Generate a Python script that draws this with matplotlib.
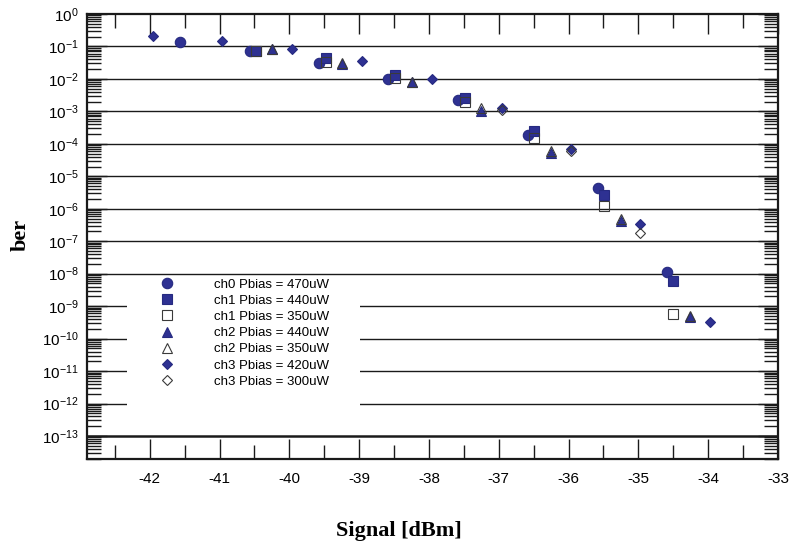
import matplotlib
matplotlib.use("Agg")
import matplotlib.pyplot as plt
from matplotlib.ticker import LogLocator, MultipleLocator, FixedLocator, FuncFormatter, NullFormatter
from matplotlib.patches import Rectangle
import numpy as np

plt.rcParams['font.family'] = ['Liberation Sans', 'DejaVu Sans']
plt.rcParams['mathtext.fontset'] = 'custom'
plt.rcParams['mathtext.rm'] = 'Liberation Sans'
plt.rcParams['mathtext.default'] = 'regular'

# measured bit error rate vs received signal power
ch0_x = [-41.57, -40.57, -39.58, -38.58, -37.58, -36.58, -35.58, -34.59]
ch0_ber = [1.4e-1, 7.4e-2, 3.0e-2, 1.0e-2, 2.2e-3, 1.9e-4, 4.4e-6, 1.1e-8]

ch1_hi_x = [-40.48, -39.48, -38.48, -37.49, -36.49, -35.49, -34.50]
ch1_hi_ber = [7.4e-2, 4.3e-2, 1.3e-2, 2.6e-3, 2.4e-4, 2.7e-6, 5.9e-9]
ch1_lo_x = [-40.48, -39.48, -38.48, -37.49, -36.49, -35.49, -34.50]
ch1_lo_ber = [7.2e-2, 3.4e-2, 1.04e-2, 1.9e-3, 1.5e-4, 1.25e-6, 5.6e-10]

ch2_hi_x = [-40.25, -39.25, -38.25, -37.25, -36.25, -35.25, -34.26]
ch2_hi_ber = [8.2e-2, 2.9e-2, 7.8e-3, 1.0e-3, 5.4e-5, 4.2e-7, 4.6e-10]
ch2_lo_x = [-40.25, -39.25, -38.25, -37.25, -36.25, -35.25, -34.26]
ch2_lo_ber = [8.4e-2, 3.0e-2, 8.2e-3, 1.25e-3, 6.2e-5, 4.7e-7, 5.0e-10]

ch3_hi_x = [-41.96, -40.96, -39.96, -38.96, -37.96, -36.96, -35.97, -34.97, -33.98]
ch3_hi_ber = [2.1e-1, 1.47e-1, 8.2e-2, 3.6e-2, 9.6e-3, 1.3e-3, 6.9e-5, 3.3e-7, 3.2e-10]
ch3_lo_x = [-36.96, -35.97, -34.97]
ch3_lo_ber = [1.1e-3, 6.0e-5, 1.8e-7]

labels = ['ch0 Pbias = 470uW', 'ch1 Pbias = 440uW', 'ch1 Pbias = 350uW',
          'ch2 Pbias = 440uW', 'ch2 Pbias = 350uW', 'ch3 Pbias = 420uW',
          'ch3 Pbias = 300uW']

blue = '#2e3192'
edge = '#262a80'
grey = '#3a3a3a'

fig = plt.figure(figsize=(7.92, 5.46), dpi=100)
ax = fig.add_axes([0.1098, 0.1593, 0.8725, 0.8151])

ax.set_yscale('log')
ax.set_xlim(-42.9, -33)
ax.set_ylim(10 ** -13.71, 1)

# horizontal decade lines
for e in range(-12, 0):
    ax.axhline(10.0 ** e, color='#1a1a1a', lw=1.0, zorder=1)
ax.axhline(1e-13, color='#1a1a1a', lw=1.8, zorder=1)

series = [
    (ch0_x, ch0_ber, 'o', 7.5, blue, edge),
    (ch1_hi_x, ch1_hi_ber, 's', 7.0, blue, edge),
    (ch1_lo_x, ch1_lo_ber, 's', 7.0, 'none', grey),
    (ch2_hi_x, ch2_hi_ber, '^', 7.0, blue, edge),
    (ch2_lo_x, ch2_lo_ber, '^', 7.0, 'none', grey),
    (ch3_hi_x, ch3_hi_ber, 'D', 5.5, blue, edge),
    (ch3_lo_x, ch3_lo_ber, 'D', 5.5, 'none', grey),
]
handles = []
for (x, y, m, ms, fc, ec), lab in zip(series, labels):
    h, = ax.plot(x, y, linestyle='none', marker=m, markersize=ms,
                 markerfacecolor=fc, markeredgecolor=ec, markeredgewidth=0.8,
                 label=lab, zorder=3)
    handles.append(h)

# white panel behind the legend
ax.add_patch(Rectangle((0.058, 0.099), 0.337, 0.313, transform=ax.transAxes,
                       facecolor='white', edgecolor='none', zorder=2))
leg = ax.legend(handles=handles, loc='upper left', bbox_to_anchor=(0.0967, 0.406),
                frameon=False, fontsize=9.5, numpoints=1, handlelength=2.0,
                handletextpad=2.6, labelspacing=0.3, borderpad=0, borderaxespad=0)
leg.set_zorder(4)

# ticks
ax.xaxis.set_major_locator(MultipleLocator(1))
ax.xaxis.set_minor_locator(MultipleLocator(0.5))
ax.yaxis.set_major_locator(FixedLocator([10.0 ** e for e in range(-13, 1)]))
ax.yaxis.set_minor_locator(LogLocator(base=10, subs=np.arange(2, 10), numticks=50))
ax.yaxis.set_minor_formatter(NullFormatter())
ax.yaxis.set_major_formatter(FuncFormatter(lambda v, p: r'$10^{%d}$' % round(np.log10(v))))
ax.xaxis.set_major_formatter(FuncFormatter(lambda v, p: '%d' % round(v)))

ax.tick_params(axis='both', which='both', direction='in', top=True, right=True, width=1.0, color='#1a1a1a')
ax.tick_params(axis='both', which='major', length=14.5)
ax.tick_params(axis='both', which='minor', length=10)
ax.tick_params(axis='x', which='major', labelsize=11, pad=9)
ax.tick_params(axis='y', which='major', labelsize=11, pad=6)

for s in ax.spines.values():
    s.set_linewidth(1.6)
    s.set_color('#1a1a1a')

fig.text(0.026, 0.569, 'ber', rotation=90, ha='center', va='center',
         family='Liberation Serif', fontweight='bold', fontsize=16)
fig.text(0.504, 0.028, 'Signal [dBm]', ha='center', va='center',
         family='Liberation Serif', fontweight='bold', fontsize=16)

fig.savefig('out.png', dpi=100)
